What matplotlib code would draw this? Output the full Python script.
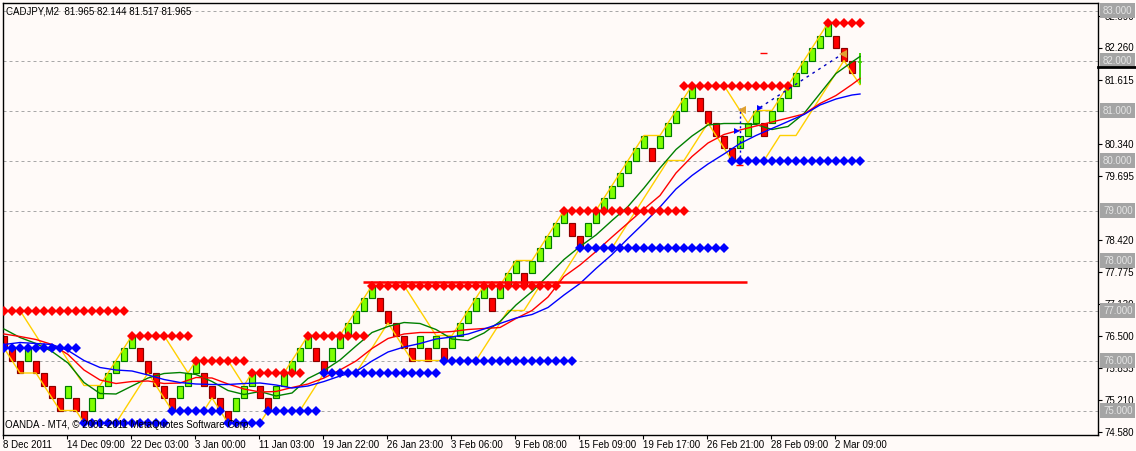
import matplotlib
matplotlib.use("Agg")
import matplotlib.pyplot as plt
from matplotlib.transforms import blended_transform_factory

# ---------------- data ----------------
header_text = "CADJPY,M2  81.965 82.144 81.517 81.965"
footer_text = "OANDA - MT4, \u00a9 2001-2011 MetaQuotes Software Corp."

box_size = 0.25
brick_low = [
    76.25, 76.0, 75.75, 76.0, 75.75, 75.5, 75.25, 75.0, 75.25, 75.0,
    74.75, 75.0, 75.25, 75.5, 75.75, 76.0, 76.25, 76.0, 75.75, 75.5,
    75.25, 75.0, 75.25, 75.5, 75.75, 75.5, 75.25, 75.0, 74.75, 75.0,
    75.25, 75.5, 75.25, 75.0, 75.25, 75.5, 75.75, 76.0, 76.25, 76.0,
    75.75, 76.0, 76.25, 76.5, 76.75, 77.0, 77.25, 77.0, 76.75, 76.5,
    76.25, 76.0, 76.25, 76.0, 76.25, 76.0, 76.25, 76.5, 76.75, 77.0,
    77.25, 77.0, 77.25, 77.5, 77.75, 77.5, 77.75, 78.0, 78.25, 78.5,
    78.75, 78.5, 78.25, 78.5, 78.75, 79.0, 79.25, 79.5, 79.75, 80.0,
    80.25, 80.0, 80.25, 80.5, 80.75, 81.0, 81.25, 81.0, 80.75, 80.5,
    80.25, 80.0, 80.25, 80.5, 80.75, 80.5, 80.75, 81.0, 81.25, 81.5,
    81.75, 82.0, 82.25, 82.5, 82.25, 82.0, 81.75,
]
brick_dir = list(
    "RRRGRRRRGR" "RGGGGGGRRR" "RRGGGRRRRG" "GGRRGGGGGR" "RGGGGGGRRR"
    "RRGRGRGGGG" "GRGGGRGGGG" "GRRGGGGGGG" "GRGGGGGRRR" "RRGGGRGGGG"
    "GGGGRRR"
)
last_bar_open, last_bar_high, last_bar_low, last_bar_close = 81.965, 82.144, 81.517, 81.965

channel_upper = [
    77.0, 77.0, 77.0, 76.75, 76.5, 76.25, 76.25, 76.25, 76.0, 75.75,
    75.5, 75.5, 75.5, 75.75, 76.0, 76.25, 76.5, 76.5, 76.5, 76.5,
    76.5, 76.25, 76.0, 75.75, 76.0, 76.0, 76.0, 76.0, 76.0, 75.75,
    75.5, 75.75, 75.75, 75.75, 75.75, 75.75, 76.0, 76.25, 76.5, 76.5,
    76.5, 76.5, 76.5, 76.75, 77.0, 77.25, 77.5, 77.5, 77.5, 77.5,
    77.5, 77.25, 77.0, 76.75, 76.5, 76.5, 76.5, 76.75, 77.0, 77.25,
    77.5, 77.5, 77.5, 77.75, 78.0, 78.0, 78.0, 78.25, 78.5, 78.75,
    79.0, 79.0, 79.0, 79.0, 79.0, 79.25, 79.5, 79.75, 80.0, 80.25,
    80.5, 80.5, 80.5, 80.75, 81.0, 81.25, 81.5, 81.5, 81.5, 81.5,
    81.5, 81.25, 81.0, 80.75, 81.0, 81.0, 81.0, 81.25, 81.5, 81.75,
    82.0, 82.25, 82.5, 82.75, 82.75, 82.75, 82.75, 82.75,
]
channel_lower = [
    76.25, 76.0, 75.75, 75.75, 75.75, 75.5, 75.25, 75.0, 75.0, 75.0,
    74.75, 74.75, 74.75, 74.75, 74.75, 75.0, 75.25, 75.5, 75.75, 75.5,
    75.25, 75.0, 75.0, 75.0, 75.0, 75.0, 75.25, 75.0, 74.75, 74.75,
    74.75, 74.75, 74.75, 75.0, 75.0, 75.0, 75.0, 75.0, 75.25, 75.5,
    75.75, 75.75, 75.75, 75.75, 75.75, 76.0, 76.25, 76.5, 76.75, 76.5,
    76.25, 76.0, 76.0, 76.0, 76.0, 76.0, 76.0, 76.0, 76.0, 76.0,
    76.25, 76.5, 76.75, 77.0, 77.0, 77.0, 77.25, 77.5, 77.5, 77.5,
    77.75, 78.0, 78.25, 78.25, 78.25, 78.25, 78.25, 78.5, 78.75, 79.0,
    79.25, 79.5, 79.75, 80.0, 80.0, 80.0, 80.25, 80.5, 80.75, 80.5,
    80.25, 80.0, 80.0, 80.0, 80.0, 80.0, 80.25, 80.5, 80.5, 80.5,
    80.75, 81.0, 81.25, 81.5, 81.75, 82.0, 81.75, 81.517,
]

ma_bars = list(range(0, 107, 2)) + [107]
ma_green = [
    76.63, 76.46, 76.34, 76.18, 75.95, 75.56, 75.34, 75.33, 75.49, 75.65,
    75.74, 75.76, 75.72, 75.58, 75.40, 75.32, 75.38, 75.29, 75.35, 75.64,
    75.80, 76.01, 76.29, 76.56, 76.68, 76.76, 76.74, 76.62, 76.43, 76.40,
    76.55, 76.78, 77.11, 77.38, 77.70, 78.02, 78.28, 78.51, 78.80, 79.08,
    79.45, 79.85, 80.22, 80.49, 80.71, 80.74, 80.74, 80.72, 80.62, 80.68,
    80.94, 81.34, 81.74, 81.97, 82.08,
]
ma_red = [
    76.53, 76.48, 76.42, 76.32, 76.12, 75.81, 75.61, 75.54, 75.58, 75.59,
    75.54, 75.55, 75.66, 75.65, 75.53, 75.43, 75.37, 75.38, 75.46, 75.53,
    75.65, 75.81, 75.99, 76.24, 76.44, 76.53, 76.56, 76.56, 76.58, 76.62,
    76.64, 76.66, 76.84, 77.00, 77.27, 77.68, 77.91, 78.18, 78.47, 78.75,
    79.03, 79.30, 79.75, 80.08, 80.35, 80.52, 80.61, 80.69, 80.77, 80.85,
    80.93, 81.14, 81.30, 81.52, 81.64,
]
ma_blue = [
    76.32, 76.36, 76.34, 76.32, 76.20, 76.00, 75.86, 75.81, 75.79, 75.71,
    75.62, 75.56, 75.53, 75.52, 75.52, 75.54, 75.55, 75.51, 75.45, 75.49,
    75.58, 75.69, 75.78, 75.99, 76.17, 76.27, 76.34, 76.43, 76.47, 76.53,
    76.63, 76.74, 76.85, 76.92, 77.06, 77.31, 77.54, 77.84, 78.12, 78.44,
    78.75, 79.07, 79.43, 79.70, 79.93, 80.13, 80.34, 80.50, 80.64, 80.78,
    80.92, 81.11, 81.23, 81.31, 81.33,
]

# (first bar, last bar, price)
resistance_rows = [(0, 15, 77.0), (16, 23, 76.5), (24, 30, 76.0), (31, 37, 75.75),
                   (38, 45, 76.5), (46, 69, 77.5), (70, 85, 79.0), (85, 98, 81.5),
                   (103, 107, 82.75)]
support_rows = [(0, 9, 76.25), (10, 20, 74.75), (21, 27, 75.0), (28, 32, 74.75),
                (33, 39, 75.0), (40, 54, 75.75), (55, 71, 76.0), (72, 90, 78.25),
                (91, 107, 80.0)]
level_line = (44.9, 92.9, 77.57)

# trade marks (bar, price)
buy_arrows = [(91.6, 80.60), (94.5, 81.06)]
close_marks = [(92.25, 81.01), (104.9, 82.14)]
trade_vertical = (92.0, 80.08, 81.06)
trade_diagonal = [(94.5, 81.06), (104.9, 82.14)]
stop_dashes = [(94.5, 95.4, 82.15), (91.5, 92.4, 79.91)]
bid_marker_price = 81.87

x_tick_labels = ["8 Dec 2011", "14 Dec 09:00", "22 Dec 03:00", "3 Jan 00:00",
                 "11 Jan 03:00", "19 Jan 22:00", "26 Jan 23:00", "3 Feb 06:00",
                 "9 Feb 08:00", "15 Feb 09:00", "19 Feb 17:00", "26 Feb 21:00",
                 "28 Feb 09:00", "2 Mar 09:00"]
x_tick_bars = [8 * n - 0.125 for n in range(len(x_tick_labels))]
y_tick_values = [74.580, 75.210, 75.855, 76.500, 77.130, 77.775, 78.420,
                 79.695, 80.340, 81.615, 82.260, 82.890]
grid_levels = [75, 76, 77, 78, 79, 80, 81, 82, 83]

# ---------------- drawing ----------------
plt.rcParams['font.family'] = ['Liberation Sans', 'DejaVu Sans']
BG = "#FFFAF8"
W, H = 1136, 451
PL, PR, PT, PB = 3, 1098, 3, 435
fig = plt.figure(figsize=(W / 100, H / 100), dpi=100, facecolor=BG)
ax = fig.add_axes([PL / W, 1 - PB / H, (PR - PL) / W, (PB - PT) / H], facecolor=BG)
ax.set_xlim(-0.125, 136.75)
ax.set_ylim(74.51, 83.15)
for sp in ax.spines.values():
    sp.set_color("black")
    sp.set_linewidth(1.0)

# grid
for lv in grid_levels:
    ax.axhline(lv, color="#A8A8A8", lw=0.72, dashes=(3, 3), zorder=0.5)

# bricks
for k, (lo, d) in enumerate(zip(brick_low, brick_dir)):
    if d == "G":
        fc, ec = "#7FFF00", "#007A00"
    else:
        fc, ec = "#FF0000", "#8B0000"
    ax.bar(k, box_size, bottom=lo, width=0.64, color=fc, edgecolor=ec,
           linewidth=0.85, zorder=2)
k_last = len(brick_low)
ax.vlines(k_last, last_bar_low, last_bar_high, color="#3CD000", lw=1.4, zorder=2)
ax.hlines(last_bar_close, k_last - 0.3, k_last + 0.3, color="#3CD000", lw=1.2, zorder=2)

# price channel (yellow)
bars_all = list(range(len(channel_upper)))
ax.plot(bars_all, channel_upper, color="#FFD000", lw=1.0, zorder=3)
ax.plot(bars_all, channel_lower, color="#FFD000", lw=1.0, zorder=3)

# moving averages
ax.plot(ma_bars, ma_green, color="#008000", lw=1.0, zorder=3.2)
ax.plot(ma_bars, ma_red, color="#FF0000", lw=1.0, zorder=3.2)
ax.plot(ma_bars, ma_blue, color="#0000FF", lw=1.0, zorder=3.2)

# horizontal level line
ax.hlines(level_line[2], level_line[0], level_line[1], color="#FF0000", lw=1.8, zorder=3.5)

# support / resistance diamonds
for rows, col in ((resistance_rows, "#FF0000"), (support_rows, "#0000FF")):
    for a, b, p in rows:
        ks = list(range(a, b + 1))
        ax.plot(ks, [p] * len(ks), color=col, lw=1.2, marker="D", ms=4.8,
                mew=0, zorder=4)

# trade marks
ax.vlines(trade_vertical[0], trade_vertical[1], trade_vertical[2], color="#0000E0",
          lw=1.0, linestyles=(0, (1.5, 2)), zorder=4.5)
ax.plot([p[0] for p in trade_diagonal], [p[1] for p in trade_diagonal], color="#0000C0",
        lw=1.0, ls=(0, (2, 3)), zorder=4.5)
for bx, by in buy_arrows:
    ax.plot([bx], [by], marker=">", color="#0000FF", ms=5, mew=0, zorder=5)
for cx, cy in close_marks:
    ax.plot([cx], [cy], marker="<", color="#E0A030", ms=6, mew=0, zorder=5)
for a, b, p in stop_dashes:
    ax.hlines(p, a, b, color="#FF0000", lw=1.0, zorder=5)

# axes ticks
ax.set_xticks(x_tick_bars)
ax.set_xticklabels(x_tick_labels, ha="left")
ax.tick_params(axis="x", direction="out", length=3, width=0.8, pad=0.5, labelsize=7,
               colors="black")
ax.yaxis.tick_right()
ax.set_yticks(y_tick_values)
ax.set_yticklabels([f"{v:.3f}" for v in y_tick_values])
ax.tick_params(axis="y", direction="out", length=3, width=0.8, pad=1.5, labelsize=7,
               colors="black")

trans = blended_transform_factory(ax.transAxes, ax.transData)
xr = (1103 - PL) / (PR - PL)
for lv in grid_levels:
    ax.text(xr, lv, f"{lv:.3f}", transform=trans, ha="left", va="center", fontsize=7,
            color="#E4E4E4", clip_on=False, zorder=6,
            bbox=dict(boxstyle="square,pad=0.28", fc="#A4A4A4", ec="none"))
ax.plot([1.0, (W - PL) / (PR - PL)], [bid_marker_price] * 2, transform=trans,
        color="black", lw=2.0, clip_on=False, zorder=6)

# header / footer
ax.text((6 - PL) / (PR - PL), (PB - 11) / (PB - PT), header_text, transform=ax.transAxes,
        ha="left", va="center", fontsize=7, color="black", zorder=7)
ax.text((5 - PL) / (PR - PL), (PB - 425) / (PB - PT), footer_text, transform=ax.transAxes,
        ha="left", va="center", fontsize=7, color="black", zorder=7)

fig.savefig("out.png", dpi=100, facecolor=BG)
